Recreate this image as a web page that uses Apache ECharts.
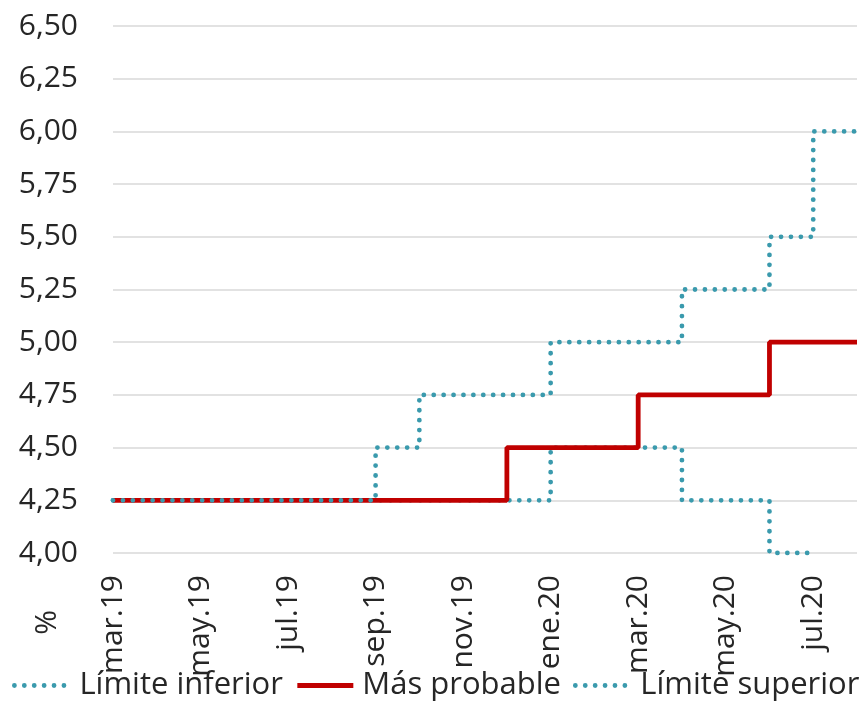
<!DOCTYPE html>
<html><head><meta charset="utf-8">
<script src="https://cdn.jsdelivr.net/npm/echarts@6/dist/echarts.min.js"></script>
<style>html,body{margin:0;padding:0;background:#fff}#c{width:865px;height:708px}</style>
</head><body><div id="c"></div>
<script>
const months = ['mar.19','abr.19','may.19','jun.19','jul.19','ago.19','sep.19','oct.19','nov.19','dic.19','ene.20','feb.20','mar.20','abr.20','may.20','jun.20','jul.20','ago.20'];
const limiteInferior = [4.25,4.25,4.25,4.25,4.25,4.25,4.25,4.25,4.25,4.25,4.50,4.50,4.50,4.25,4.25,4.00,4.00];
const masProbable   = [4.25,4.25,4.25,4.25,4.25,4.25,4.25,4.25,4.25,4.50,4.50,4.50,4.75,4.75,4.75,5.00,5.00,5.00];
const limiteSuperior= [4.25,4.25,4.25,4.25,4.25,4.25,4.50,4.75,4.75,4.75,5.00,5.00,5.00,5.25,5.25,5.50,6.00,6.00];
const yTicks = [4.00,4.25,4.50,4.75,5.00,5.25,5.50,5.75,6.00,6.25,6.50];

const teal = '#3A9AAD', red = '#C00000';
const font = '"Open Sans", sans-serif';
const dotted = {color: teal, width: 4.8, type: [0.01, 9.9], cap: 'round'};
const solid = {color: red, width: 4.8};
const chart = echarts.init(document.getElementById('c'));
chart.setOption({
  animation: false,
  textStyle: {fontFamily: font},
  grid: {left: 113, right: 8, top: 26, bottom: 155, containLabel: false},
  xAxis: {
    type: 'category', data: months, boundaryGap: false,
    axisLine: {show: false}, axisTick: {show: false},
    axisLabel: {interval: 1, rotate: 90, fontSize: 30, color: '#262626', margin: 22, fontFamily: font}
  },
  yAxis: {
    type: 'value', min: yTicks[0], max: yTicks[yTicks.length-1], interval: 0.25,
    axisLine: {show: false}, axisTick: {show: false},
    splitLine: {lineStyle: {color: '#D9D9D9', width: 1.5}},
    axisLabel: {fontSize: 30, color: '#262626', margin: 35, fontFamily: font,
      formatter: v => v.toFixed(2).replace('.', ',')}
  },
  legend: {
    left: 12, top: 670, padding: 0, itemGap: 12, itemWidth: 56, itemHeight: 12,
    itemStyle: {opacity: 0},
    textStyle: {fontSize: 31, color: '#262626', fontFamily: font, padding: [0, 0, 0, 4]},
    data: [
      {name: 'Límite inferior', lineStyle: dotted},
      {name: 'Más probable', lineStyle: solid},
      {name: 'Límite superior', lineStyle: dotted}
    ]
  },
  graphic: [{type: 'text', left: 32, top: 610, rotation: Math.PI/2,
    style: {text: '%', font: '30px "Open Sans", sans-serif', fill: '#262626'}}],
  series: [
    {name: 'Límite inferior', type: 'line', step: 'end', data: limiteInferior, symbol: 'none', lineStyle: dotted, itemStyle: {color: teal}, z: 2},
    {name: 'Más probable', type: 'line', step: 'end', data: masProbable, symbol: 'none', lineStyle: solid, itemStyle: {color: red}, z: 3},
    {name: 'Límite superior', type: 'line', step: 'end', data: limiteSuperior, symbol: 'none', lineStyle: dotted, itemStyle: {color: teal}, z: 4}
  ]
});
</script></body></html>
